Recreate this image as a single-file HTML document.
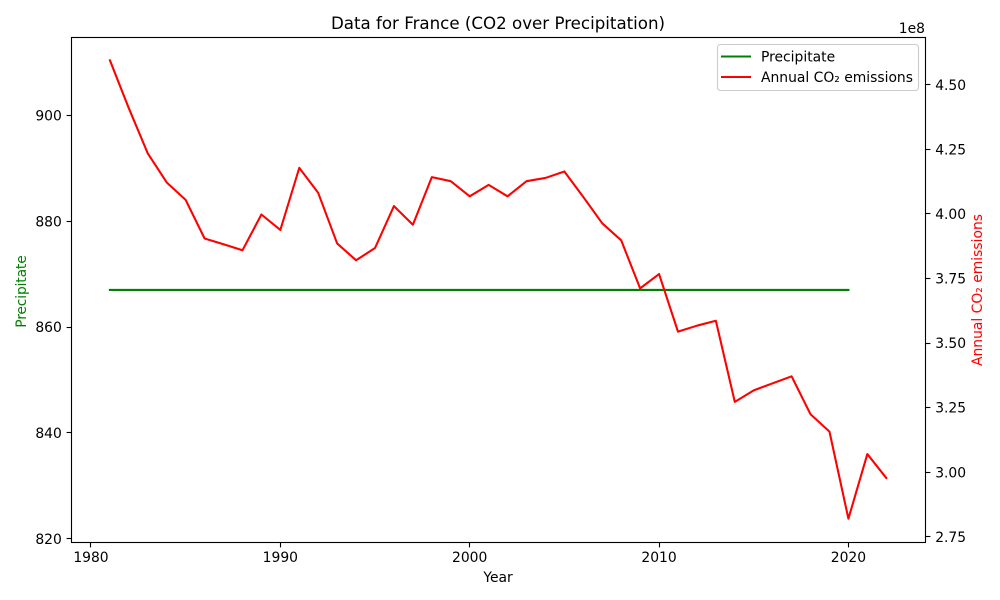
<!DOCTYPE html>
<html lang="en">
<head>
<meta charset="utf-8">
<title>Data for France (CO2 over Precipitation)</title>
<style>
html,body{margin:0;padding:0;background:#fff;}
svg{display:block;}
text{font-family:"DejaVu Sans","Liberation Sans",sans-serif;font-size:13.89px;fill:#000;}
</style>
</head>
<body>
<svg id="chart" width="1000" height="600" viewBox="0 0 1000 600" xmlns="http://www.w3.org/2000/svg">
  <rect x="0" y="0" width="1000" height="600" fill="#fff"/>
  <g id="marks"></g>
  <g id="ticks"></g>
  <rect x="71.5" y="37.5" width="854" height="505" fill="none" stroke="#000" stroke-width="1.11"/>
  <text x="498" y="29" text-anchor="middle" style="font-size:16.67px">Data for France (CO2 over Precipitation)</text>
  <text x="498" y="582" text-anchor="middle">Year</text>
  <text transform="translate(26,291.5) rotate(-90)" text-anchor="middle" textLength="72.5" lengthAdjust="spacing" style="fill:#008000">Precipitate</text>
  <text transform="translate(982,290) rotate(-90)" text-anchor="middle" style="fill:#ff0000">Annual CO₂ emissions</text>
  <text x="925" y="33" text-anchor="end">1e8</text>
  <g>
    <rect x="717.5" y="44.5" width="201" height="46" rx="3" ry="3" fill="#fff" fill-opacity="0.8" stroke="#cccccc" stroke-width="1.11"/>
    <line x1="721" y1="56.5" x2="751" y2="56.5" stroke="#008000" stroke-width="2.08"/>
    <text x="761" y="61.5">Precipitate</text>
    <line x1="721" y1="77" x2="751" y2="77" stroke="#ff0000" stroke-width="2.08"/>
    <text x="761" y="82">Annual CO₂ emissions</text>
  </g>
</svg>
<script>
const precipYears = [1981,1982,1983,1984,1985,1986,1987,1988,1989,1990,1991,1992,1993,1994,1995,1996,1997,1998,1999,2000,2001,2002,2003,2004,2005,2006,2007,2008,2009,2010,2011,2012,2013,2014,2015,2016,2017,2018,2019,2020];
const precipValues = [867,867,867,867,867,867,867,867,867,867,867,867,867,867,867,867,867,867,867,867,867,867,867,867,867,867,867,867,867,867,867,867,867,867,867,867,867,867,867,867];
const co2Years = [1981,1982,1983,1984,1985,1986,1987,1988,1989,1990,1991,1992,1993,1994,1995,1996,1997,1998,1999,2000,2001,2002,2003,2004,2005,2006,2007,2008,2009,2010,2011,2012,2013,2014,2015,2016,2017,2018,2019,2020,2021,2022];
const co2Values = [4.5945,4.4086,4.2340,4.1215,4.0540,3.9045,3.8821,3.8589,3.9975,3.9375,4.1780,4.0810,3.8855,3.8202,3.8678,4.0300,3.9580,4.1420,4.1265,4.0679,4.1120,4.0679,4.1265,4.1390,4.1640,4.0652,3.9634,3.8976,3.7115,3.7670,3.5440,3.5670,3.5860,3.2720,3.3165,3.3440,3.3710,3.2240,3.1570,2.8198,3.0700,2.9773];
const xTickValues = [1980,1990,2000,2010,2020];
const leftTickValues = [820,840,860,880,900];
const rightTickValues = [2.75,3.00,3.25,3.50,3.75,4.00,4.25,4.50];

const SVG_NS = 'http://www.w3.org/2000/svg';
function xAxis(year){ return 71.1 + (year - 1978.95) * (854 / 45.1); }
function leftAxis(v){ return 538.7 - (v - 820) * 5.2925; }
function rightAxis(v){ return 84.7 + (4.5 - v) * 258.3; }
function snap(p){ return Math.floor(p) + 0.5; }

function makeLine(years, values, yAxis, color){
  const el = document.createElementNS(SVG_NS, 'polyline');
  el.setAttribute('points', years.map((y, i) => xAxis(y).toFixed(2) + ',' + yAxis(values[i]).toFixed(2)).join(' '));
  el.setAttribute('fill', 'none');
  el.setAttribute('stroke', color);
  el.setAttribute('stroke-width', '2.08');
  el.setAttribute('stroke-linejoin', 'round');
  el.setAttribute('stroke-linecap', 'square');
  return el;
}
const marks = document.getElementById('marks');
const precipLine = makeLine(precipYears, precipValues, leftAxis, '#008000');


marks.appendChild(precipLine);
const co2Line = makeLine(co2Years, co2Values, rightAxis, '#ff0000');


marks.appendChild(co2Line);

const ticks = document.getElementById('ticks');
function makeTick(x1, y1, x2, y2){
  const t = document.createElementNS(SVG_NS, 'line');
  t.setAttribute('x1', x1);
  t.setAttribute('y1', y1);
  t.setAttribute('x2', x2);
  t.setAttribute('y2', y2);
  t.setAttribute('stroke', '#000');
  t.setAttribute('stroke-width', '1.11');
  return t;
}
function makeLabel(x, y, anchor, str){
  const l = document.createElementNS(SVG_NS, 'text');
  l.setAttribute('x', x);
  l.setAttribute('y', y);
  l.setAttribute('text-anchor', anchor);
  l.textContent = str;
  return l;
}
xTickValues.forEach(v => {
  const p = snap(xAxis(v));
  const t = makeTick(p, 542.5, p, 547.4);
  
  
  ticks.appendChild(t);
  const l = makeLabel(xAxis(v), 562, 'middle', String(v));
  
  
  ticks.appendChild(l);
});
leftTickValues.forEach(v => {
  const p = snap(leftAxis(v));
  const t = makeTick(71.5, p, 66.6, p);
  
  
  ticks.appendChild(t);
  const l = makeLabel(61.8, leftAxis(v) + 5.1, 'end', String(v));
  
  
  ticks.appendChild(l);
});
rightTickValues.forEach(v => {
  const p = snap(rightAxis(v));
  const t = makeTick(925.5, p, 930.4, p);
  
  
  ticks.appendChild(t);
  const l = makeLabel(935.2, rightAxis(v) + 5.1, 'start', v.toFixed(2));
  
  
  ticks.appendChild(l);
});
</script>
</body>
</html>
